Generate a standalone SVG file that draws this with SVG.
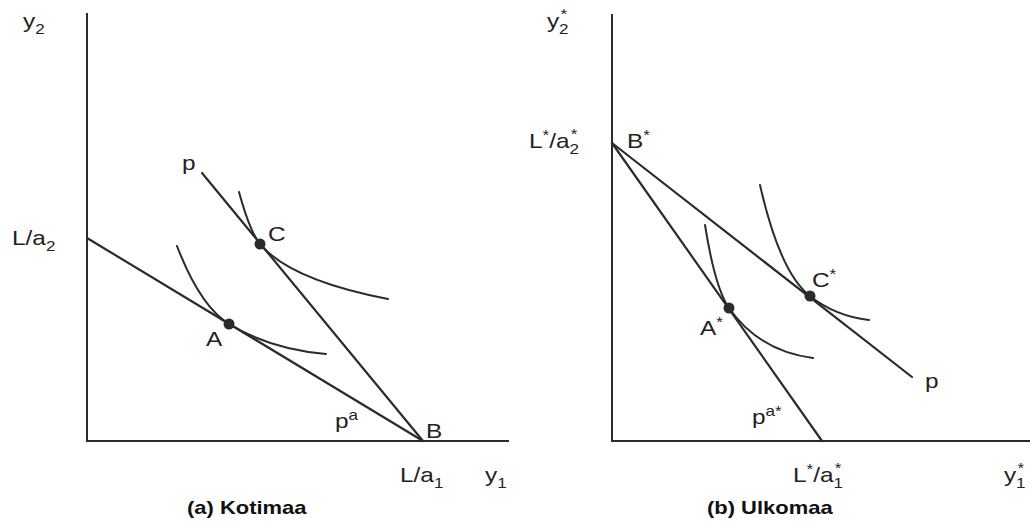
<svg xmlns="http://www.w3.org/2000/svg" width="1030" height="521" viewBox="0 0 1030 521">
<style>
.ax{stroke:#2b2b2b;stroke-width:2;fill:none;stroke-linecap:square}
.ln{stroke:#2b2b2b;stroke-width:2.2;fill:none;stroke-linecap:round}
.ic{stroke:#2b2b2b;stroke-width:2;fill:none;stroke-linecap:round}
.dot{fill:#2b2b2b}
text{font-family:"Liberation Sans",Arial,sans-serif;font-size:20px;fill:#222}
.t{font-weight:bold;font-size:18px;fill:#111}
.s{font-size:14px}
</style>
<rect width="1030" height="521" fill="#fff"/>
<g id="panel-a">
  <g id="axes-a">
    <line class="ax" x1="87" y1="14" x2="87" y2="441"/>
    <line class="ax" x1="87" y1="441" x2="508" y2="441"/>
  </g>
  <g id="connectors-a">
    <line class="ln" x1="87" y1="238" x2="423" y2="441"/>
    <line class="ln" x1="202" y1="173" x2="423" y2="441"/>
    <path class="ic" d="M239,192 Q250,232 260,244 Q290,280 388,299"/>
    <path class="ic" d="M177,246 Q200,306 229,324 Q270,349 326,354"/>
  </g>
  <g id="node-C"><circle class="dot" cx="260" cy="244" r="5.5"/><text transform="translate(268,241) scale(1.22,1)">C</text></g>
  <g id="node-A"><circle class="dot" cx="229" cy="324" r="5.5"/><text transform="translate(206,346) scale(1.22,1)">A</text></g>
  <g id="node-B"><text transform="translate(426,438) scale(1.22,1)">B</text></g>
  <g id="labels-a">
    <text transform="translate(23,28) scale(1.22,1)">y<tspan class="s" dy="6">2</tspan></text>
    <text transform="translate(12,245) scale(1.22,1)">L/a<tspan class="s" dy="6">2</tspan></text>
    <text transform="translate(182,170) scale(1.22,1)">p</text>
    <text transform="translate(335,428) scale(1.22,1)">p<tspan class="s" dy="-8">a</tspan></text>
    <text transform="translate(400,482) scale(1.22,1)">L/a<tspan class="s" dy="6">1</tspan></text>
    <text transform="translate(485,482) scale(1.22,1)">y<tspan class="s" dy="6">1</tspan></text>
    <text class="t" transform="translate(187,514) scale(1.22,1)">(a) Kotimaa</text>
  </g>
</g>
<g id="panel-b">
  <g id="axes-b">
    <line class="ax" x1="612" y1="15" x2="612" y2="441"/>
    <line class="ax" x1="612" y1="441" x2="1030" y2="441"/>
  </g>
  <g id="connectors-b">
    <line class="ln" x1="612" y1="143" x2="822" y2="441"/>
    <line class="ln" x1="612" y1="143" x2="912" y2="377"/>
    <path class="ic" d="M705,225 Q715,288 729,308 Q759,351 813,358"/>
    <path class="ic" d="M760,185 Q780,273 810,296 Q835,316 869,320"/>
  </g>
  <g id="node-Bstar"><text transform="translate(627,148) scale(1.22,1)">B<tspan class="s" dy="-8">*</tspan></text></g>
  <g id="node-Cstar"><circle class="dot" cx="810" cy="296" r="5.5"/><text transform="translate(812,287) scale(1.22,1)">C<tspan class="s" dy="-8">*</tspan></text></g>
  <g id="node-Astar"><circle class="dot" cx="729" cy="308" r="5.5"/><text transform="translate(700,335) scale(1.22,1)">A<tspan class="s" dy="-8">*</tspan></text></g>
  <g id="labels-b">
    <text transform="translate(547,28) scale(1.22,1)">y<tspan class="s" dx="1" dy="-9">*</tspan><tspan class="s" dx="-6.6" dy="15">2</tspan></text>
    <text transform="translate(529,148) scale(1.22,1)">L<tspan class="s" dy="-8">*</tspan><tspan dy="8">/a</tspan><tspan class="s" dx="1" dy="-9">*</tspan><tspan class="s" dx="-6.6" dy="15">2</tspan></text>
    <text transform="translate(925,388) scale(1.22,1)">p</text>
    <text transform="translate(752,424) scale(1.22,1)">p<tspan class="s" dy="-8">a*</tspan></text>
    <text transform="translate(793,482) scale(1.22,1)">L<tspan class="s" dy="-8">*</tspan><tspan dy="8">/a</tspan><tspan class="s" dx="1" dy="-9">*</tspan><tspan class="s" dx="-6.6" dy="15">1</tspan></text>
    <text transform="translate(1004,482) scale(1.22,1)">y<tspan class="s" dx="1" dy="-9">*</tspan><tspan class="s" dx="-6.6" dy="15">1</tspan></text>
    <text class="t" transform="translate(707,514) scale(1.22,1)">(b) Ulkomaa</text>
  </g>
</g>
</svg>
